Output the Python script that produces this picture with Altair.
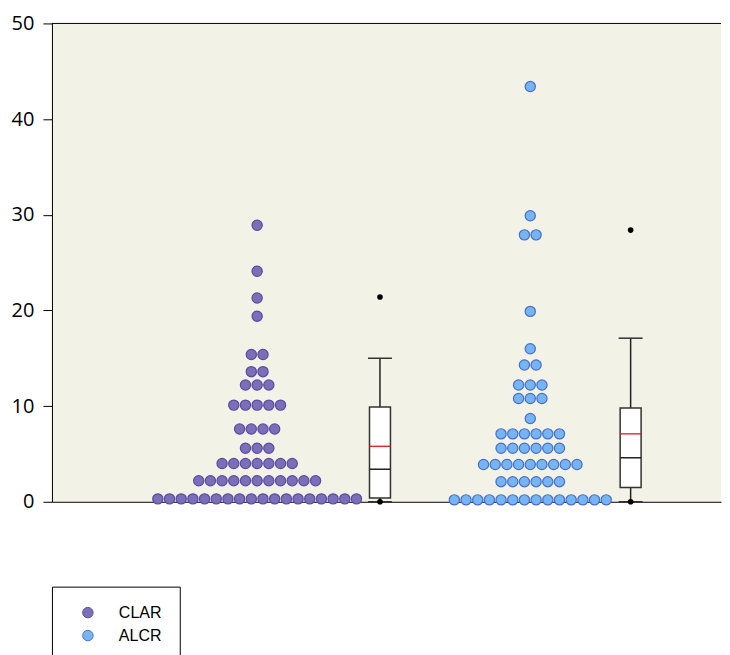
import altair as alt
import pandas as pd

# ---------------- data ----------------
groups = ["CLAR", "ALCR"]

# dot plot rows: value level and number of dots in that row
clar_levels = [0.3, 2.2, 4.0, 5.6, 7.6, 10.1, 12.2, 13.6, 15.4, 19.4, 21.3, 24.1, 28.9]
clar_counts = [18, 11, 7, 3, 4, 5, 3, 2, 2, 1, 1, 1, 1]
alcr_levels = [0.2, 2.1, 3.9, 5.6, 7.1, 8.7, 10.8, 12.2, 14.3, 16.0, 19.9, 27.9, 29.9, 43.4]
alcr_counts = [14, 6, 9, 6, 6, 1, 3, 3, 2, 1, 1, 2, 1, 1]

# box plot statistics (CLAR, ALCR)
box_q1 = [0.4, 1.5]
box_median = [3.4, 4.6]
box_q3 = [9.9, 9.8]
box_mean = [5.8, 7.1]
whisker_low = [0.0, 0.0]
whisker_high = [15.0, 17.1]
clar_outliers = [21.4, 0.0]
alcr_outliers = [28.4, 0.0]

y_ticks = [0, 10, 20, 30, 40, 50]

# ---------------- layout / style ----------------
PLOT_W = 670
PLOT_H = 479
dot_center = [205.5, 479.0]   # horizontal layout units (one unit = one pixel)
box_center = [328.5, 579.5]
dot_step = 11.7
box_half = 10.5
cap_half = 12.0
fill_colors = ["#7b70b8", "#76b5f3"]
stroke_colors = ["#5b4aa5", "#4a6ecb"]

# ---------------- build tables ----------------
rows = []
for g, levels, counts, cx in [("CLAR", clar_levels, clar_counts, dot_center[0]),
                              ("ALCR", alcr_levels, alcr_counts, dot_center[1])]:
    for v, n in zip(levels, counts):
        for i in range(n):
            rows.append({"group": g, "value": v, "xpos": cx + (i - (n - 1) / 2) * dot_step})
dots = pd.DataFrame(rows)

boxes = pd.DataFrame({
    "group": groups,
    "cx": box_center,
    "left": [c - box_half for c in box_center],
    "right": [c + box_half for c in box_center],
    "capl": [c - cap_half for c in box_center],
    "capr": [c + cap_half for c in box_center],
    "q1": box_q1, "median": box_median, "q3": box_q3, "mean": box_mean,
    "wlo": whisker_low, "whi": whisker_high,
})

out_rows = []
for g, vals, cx in [("CLAR", clar_outliers, box_center[0]), ("ALCR", alcr_outliers, box_center[1])]:
    for v in vals:
        out_rows.append({"group": g, "value": v, "cx": cx})
outs = pd.DataFrame(out_rows)

xscale = alt.Scale(domain=[0, PLOT_W], nice=False, zero=False)
yscale = alt.Scale(domain=[0, 50], nice=False)

x_axis = alt.Axis(title=None, labels=False, ticks=False, grid=False,
                  domainColor="black", domainWidth=1)
y_axis = alt.Axis(title=None, values=y_ticks, grid=False, domainColor="black",
                  tickColor="black", tickSize=9, labelPadding=9,
                  labelFont="Open Sans", labelFontSize=20, labelColor="black")

dot_layer = alt.Chart(dots).mark_point(filled=True, opacity=1, size=105, strokeWidth=1.2, shape="circle").encode(
    x=alt.X("xpos:Q", scale=xscale, axis=x_axis),
    y=alt.Y("value:Q", scale=yscale, axis=y_axis),
    fill=alt.Fill("group:N", scale=alt.Scale(domain=groups, range=fill_colors),
                  legend=alt.Legend(title=None, orient="none", legendX=0, legendY=564,
                                    fillColor="white", strokeColor="black", padding=18,
                                    symbolType="circle", symbolSize=110, symbolOffset=10,
                                    labelOffset=23, labelFont="Liberation Sans",
                                    labelFontSize=16, labelColor="black", rowPadding=7,
                                    symbolStrokeWidth=1)),
    stroke=alt.Stroke("group:N", scale=alt.Scale(domain=groups, range=stroke_colors), legend=None),
)

box_rect = alt.Chart(boxes).mark_rect(fill="white", stroke="#333333", strokeWidth=1.5).encode(
    x=alt.X("left:Q", scale=xscale), x2="right:Q",
    y=alt.Y("q1:Q", scale=yscale), y2="q3:Q",
)
whisk_hi = alt.Chart(boxes).mark_rule(color="#222222", strokeWidth=1.5).encode(
    x=alt.X("cx:Q", scale=xscale), y=alt.Y("q3:Q", scale=yscale), y2="whi:Q")
whisk_lo = alt.Chart(boxes).mark_rule(color="#222222", strokeWidth=1.5).encode(
    x=alt.X("cx:Q", scale=xscale), y=alt.Y("wlo:Q", scale=yscale), y2="q1:Q")
cap_hi = alt.Chart(boxes).mark_rule(color="#333333", strokeWidth=1.5).encode(
    x=alt.X("capl:Q", scale=xscale), x2="capr:Q", y=alt.Y("whi:Q", scale=yscale))
cap_lo = alt.Chart(boxes).mark_rule(color="#333333", strokeWidth=1.5).encode(
    x=alt.X("capl:Q", scale=xscale), x2="capr:Q", y=alt.Y("wlo:Q", scale=yscale))
med = alt.Chart(boxes).mark_rule(color="#222222", strokeWidth=1.5).encode(
    x=alt.X("left:Q", scale=xscale), x2="right:Q", y=alt.Y("median:Q", scale=yscale))
mean_l = alt.Chart(boxes).mark_rule(color="#e8141e", strokeWidth=1.3).encode(
    x=alt.X("left:Q", scale=xscale), x2="right:Q", y=alt.Y("mean:Q", scale=yscale))
out_layer = alt.Chart(outs).mark_circle(color="black", opacity=1, size=32).encode(
    x=alt.X("cx:Q", scale=xscale), y=alt.Y("value:Q", scale=yscale))

top_line = alt.Chart(boxes.head(1)).mark_rule(color="black", strokeWidth=1).encode(
    x=alt.value(0), x2=alt.value(PLOT_W), y=alt.value(0))

chart = alt.layer(
    dot_layer, whisk_hi, whisk_lo, cap_hi, cap_lo, box_rect, med, mean_l, out_layer, top_line
).properties(
    width=PLOT_W, height=PLOT_H, padding={"left": 3, "top": 5, "right": 0, "bottom": 0}
).configure(
    background="white",
    view=alt.ViewConfig(stroke=None, fill="#f2f2e6"),
)

chart.save("out.html", embed_options={"renderer": "svg", "actions": False})
